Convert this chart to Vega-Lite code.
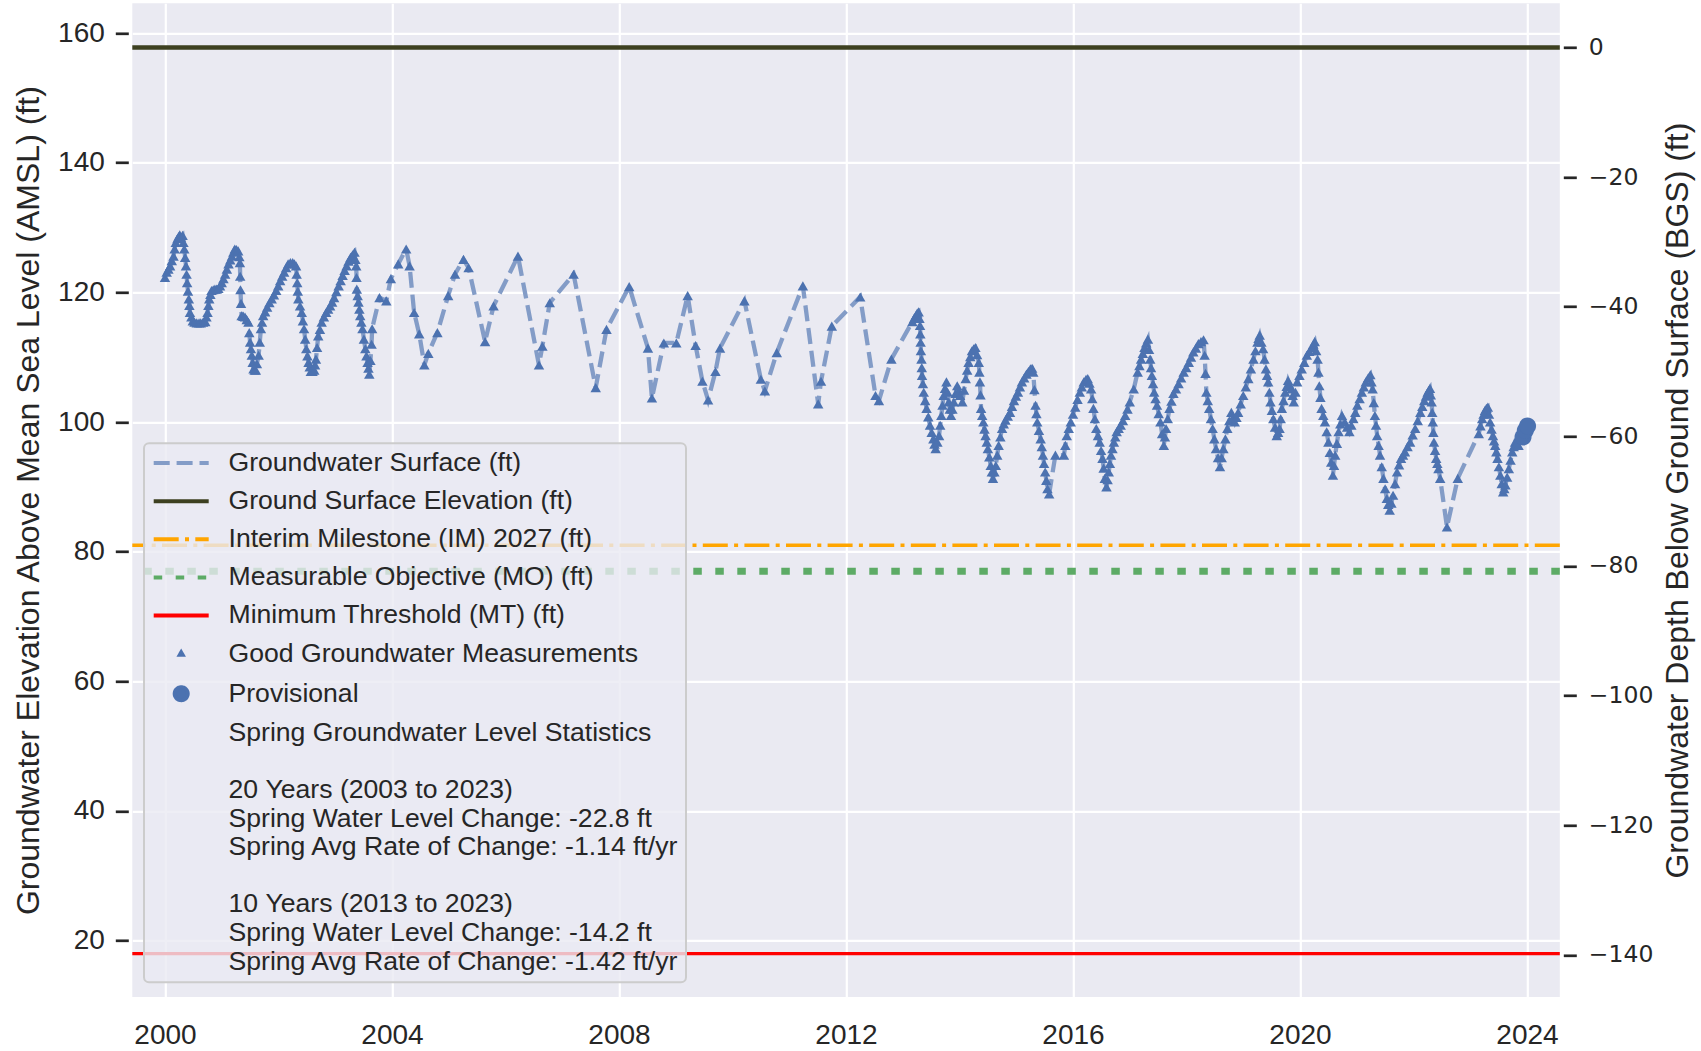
{
"$schema": "https://vega.github.io/schema/vega-lite/v6.json",
"width": 1427.5,
"height": 993.7,
"autosize": {"type": "none"},
"padding": {"left": 132.3, "top": 3.3, "right": 141.2, "bottom": 54},
"background": "#ffffff",
"config": {
  "font": "Liberation Sans",
  "view": {"fill": "#EAEAF2", "stroke": null},
  "axis": {"gridColor": "#ffffff", "gridOpacity": 1, "gridWidth": 2.2, "domain": false, "labelColor": "#262626", "titleColor": "#262626", "tickColor": "#262626", "labelFont": "Liberation Sans", "titleFont": "Liberation Sans", "titleFontWeight": "normal"},
  "legend": {"strokeWidth": 2}
},
"datasets": {
  "refs": [
    {"s": "Interim Milestone (IM) 2027 (ft)", "v": 81},
    {"s": "Measurable Objective (MO) (ft)", "v": 77},
    {"s": "Minimum Threshold (MT) (ft)", "v": 18}
  ],
  "gse": [{"s": "Ground Surface Elevation (ft)", "v": 157.8, "depth": 0}],
  "gw": [
{"t":2000.00,"v":122.3,"q":"g"},{"t":2000.03,"v":123.1,"q":"g"},{"t":2000.06,"v":123.6,"q":"g"},{"t":2000.09,"v":124.1,"q":"g"},{"t":2000.12,"v":124.9,"q":"g"},{"t":2000.15,"v":125.6,"q":"g"},{"t":2000.17,"v":126.7,"q":"g"},{"t":2000.19,"v":127.7,"q":"g"},{"t":2000.22,"v":128.3,"q":"g"},{"t":2000.24,"v":128.6,"q":"g"},{"t":2000.26,"v":128.9,"q":"g"},{"t":2000.28,"v":128.5,"q":"g"},{"t":2000.31,"v":128.8,"q":"g"},{"t":2000.325,"v":127.7,"q":"g"},{"t":2000.34,"v":126.7,"q":"g"},{"t":2000.355,"v":125.4,"q":"g"},{"t":2000.37,"v":124.1,"q":"g"},{"t":2000.38,"v":122.8,"q":"g"},{"t":2000.39,"v":121.5,"q":"g"},{"t":2000.405,"v":120.2,"q":"g"},{"t":2000.42,"v":119.0,"q":"g"},{"t":2000.43,"v":118.0,"q":"g"},{"t":2000.44,"v":116.9,"q":"g"},{"t":2000.465,"v":116.2,"q":"g"},{"t":2000.49,"v":115.6,"q":"g"},{"t":2000.52,"v":115.4,"q":"g"},{"t":2000.56,"v":115.3,"q":"g"},{"t":2000.60,"v":115.3,"q":"g"},{"t":2000.63,"v":115.3,"q":"g"},{"t":2000.67,"v":115.4,"q":"g"},{"t":2000.71,"v":115.5,"q":"g"},{"t":2000.73,"v":116.2,"q":"g"},{"t":2000.75,"v":116.9,"q":"g"},{"t":2000.765,"v":118.0,"q":"g"},{"t":2000.78,"v":119.0,"q":"g"},{"t":2000.80,"v":119.7,"q":"g"},{"t":2000.82,"v":120.3,"q":"g"},{"t":2000.85,"v":120.4,"q":"g"},{"t":2000.88,"v":120.5,"q":"g"},{"t":2000.91,"v":120.5,"q":"g"},{"t":2000.94,"v":120.6,"q":"g"},{"t":2000.97,"v":121.0,"q":"g"},{"t":2001.00,"v":121.5,"q":"g"},{"t":2001.03,"v":122.1,"q":"g"},{"t":2001.06,"v":122.8,"q":"g"},{"t":2001.09,"v":123.6,"q":"g"},{"t":2001.12,"v":124.4,"q":"g"},{"t":2001.15,"v":125.0,"q":"g"},{"t":2001.18,"v":125.6,"q":"g"},{"t":2001.205,"v":126.2,"q":"g"},{"t":2001.23,"v":126.7,"q":"g"},{"t":2001.26,"v":126.6,"q":"g"},{"t":2001.29,"v":126.4,"q":"g"},{"t":2001.31,"v":125.5,"q":"g"},{"t":2001.32,"v":124.6,"q":"g"},{"t":2001.325,"v":122.5,"q":"g"},{"t":2001.33,"v":120.4,"q":"g"},{"t":2001.34,"v":118.3,"q":"g"},{"t":2001.35,"v":116.4,"q":"g"},{"t":2001.38,"v":116.3,"q":"g"},{"t":2001.41,"v":116.2,"q":"g"},{"t":2001.44,"v":115.8,"q":"g"},{"t":2001.47,"v":115.4,"q":"g"},{"t":2001.485,"v":113.8,"q":"g"},{"t":2001.50,"v":112.3,"q":"g"},{"t":2001.515,"v":111.3,"q":"g"},{"t":2001.53,"v":110.3,"q":"g"},{"t":2001.545,"v":109.2,"q":"g"},{"t":2001.56,"v":108.2,"q":"g"},{"t":2001.58,"v":108.0,"q":"g"},{"t":2001.60,"v":108.0,"q":"g"},{"t":2001.62,"v":109.0,"q":"g"},{"t":2001.65,"v":110.3,"q":"g"},{"t":2001.67,"v":112.3,"q":"g"},{"t":2001.69,"v":114.4,"q":"g"},{"t":2001.71,"v":115.4,"q":"g"},{"t":2001.73,"v":116.4,"q":"g"},{"t":2001.765,"v":117.0,"q":"g"},{"t":2001.80,"v":117.7,"q":"g"},{"t":2001.84,"v":118.4,"q":"g"},{"t":2001.88,"v":119.0,"q":"g"},{"t":2001.92,"v":119.6,"q":"g"},{"t":2001.96,"v":120.3,"q":"g"},{"t":2001.995,"v":121.0,"q":"g"},{"t":2002.03,"v":121.8,"q":"g"},{"t":2002.065,"v":122.5,"q":"g"},{"t":2002.10,"v":123.1,"q":"g"},{"t":2002.135,"v":123.8,"q":"g"},{"t":2002.17,"v":124.4,"q":"g"},{"t":2002.21,"v":124.6,"q":"g"},{"t":2002.25,"v":124.6,"q":"g"},{"t":2002.28,"v":124.4,"q":"g"},{"t":2002.31,"v":124.1,"q":"g"},{"t":2002.32,"v":122.8,"q":"g"},{"t":2002.33,"v":121.5,"q":"g"},{"t":2002.34,"v":120.2,"q":"g"},{"t":2002.35,"v":119.0,"q":"g"},{"t":2002.38,"v":117.9,"q":"g"},{"t":2002.41,"v":116.9,"q":"g"},{"t":2002.43,"v":115.6,"q":"g"},{"t":2002.45,"v":114.4,"q":"g"},{"t":2002.47,"v":112.8,"q":"g"},{"t":2002.49,"v":111.3,"q":"g"},{"t":2002.51,"v":110.2,"q":"g"},{"t":2002.53,"v":109.2,"q":"g"},{"t":2002.55,"v":108.5,"q":"g"},{"t":2002.57,"v":107.8,"q":"g"},{"t":2002.60,"v":107.8,"q":"g"},{"t":2002.63,"v":108.0,"q":"g"},{"t":2002.645,"v":108.8,"q":"g"},{"t":2002.66,"v":109.7,"q":"g"},{"t":2002.68,"v":111.5,"q":"g"},{"t":2002.70,"v":113.3,"q":"g"},{"t":2002.73,"v":114.3,"q":"g"},{"t":2002.76,"v":115.4,"q":"g"},{"t":2002.80,"v":116.2,"q":"g"},{"t":2002.84,"v":116.9,"q":"g"},{"t":2002.875,"v":117.4,"q":"g"},{"t":2002.91,"v":117.9,"q":"g"},{"t":2002.945,"v":118.5,"q":"g"},{"t":2002.98,"v":119.2,"q":"g"},{"t":2003.02,"v":120.1,"q":"g"},{"t":2003.06,"v":121.0,"q":"g"},{"t":2003.095,"v":121.8,"q":"g"},{"t":2003.13,"v":122.6,"q":"g"},{"t":2003.165,"v":123.4,"q":"g"},{"t":2003.20,"v":124.1,"q":"g"},{"t":2003.235,"v":124.8,"q":"g"},{"t":2003.27,"v":125.4,"q":"g"},{"t":2003.305,"v":125.8,"q":"g"},{"t":2003.34,"v":126.2,"q":"g"},{"t":2003.355,"v":125.1,"q":"g"},{"t":2003.37,"v":124.1,"q":"g"},{"t":2003.375,"v":122.3,"q":"g"},{"t":2003.38,"v":120.5,"q":"g"},{"t":2003.395,"v":119.5,"q":"g"},{"t":2003.41,"v":118.5,"q":"g"},{"t":2003.425,"v":117.4,"q":"g"},{"t":2003.44,"v":116.4,"q":"g"},{"t":2003.46,"v":115.4,"q":"g"},{"t":2003.48,"v":114.4,"q":"g"},{"t":2003.505,"v":112.8,"q":"g"},{"t":2003.53,"v":111.3,"q":"g"},{"t":2003.55,"v":110.2,"q":"g"},{"t":2003.57,"v":109.2,"q":"g"},{"t":2003.585,"v":108.3,"q":"g"},{"t":2003.60,"v":107.4,"q":"g"},{"t":2003.62,"v":109.5,"q":"g"},{"t":2003.64,"v":112.0,"q":"g"},{"t":2003.65,"v":114.4,"q":"g"},
{"t":2003.78,"v":119.2,"q":"g"},{"t":2003.90,"v":118.7,"q":"g"},{"t":2003.98,"v":122.1,"q":"g"},{"t":2004.11,"v":124.4,"q":"g"},{"t":2004.25,"v":126.7,"q":"g"},{"t":2004.31,"v":124.1,"q":"g"},{"t":2004.39,"v":116.9,"q":"g"},{"t":2004.48,"v":113.6,"q":"g"},{"t":2004.57,"v":108.8,"q":"g"},{"t":2004.64,"v":110.6,"q":"g"},{"t":2004.80,"v":113.8,"q":"g"},{"t":2004.99,"v":119.5,"q":"g"},{"t":2005.11,"v":122.8,"q":"g"},{"t":2005.26,"v":125.1,"q":"g"},{"t":2005.35,"v":123.8,"q":"g"},{"t":2005.64,"v":112.4,"q":"g"},{"t":2005.79,"v":117.9,"q":"g"},{"t":2006.22,"v":125.6,"q":"g"},{"t":2006.59,"v":108.8,"q":"g"},{"t":2006.65,"v":111.7,"q":"g"},{"t":2006.78,"v":118.4,"q":"g"},{"t":2007.20,"v":122.8,"q":"g"},{"t":2007.59,"v":105.3,"q":"g"},{"t":2007.78,"v":114.3,"q":"g"},{"t":2008.18,"v":120.9,"q":"g"},{"t":2008.51,"v":111.4,"q":"g"},{"t":2008.58,"v":103.7,"q":"g"},{"t":2008.79,"v":112.2,"q":"g"},{"t":2009.01,"v":112.2,"q":"g"},{"t":2009.21,"v":119.5,"q":"g"},{"t":2009.35,"v":111.8,"q":"g"},{"t":2009.47,"v":106.3,"q":"g"},{"t":2009.57,"v":103.4,"q":"g"},{"t":2009.70,"v":107.8,"q":"g"},{"t":2009.78,"v":111.4,"q":"g"},{"t":2010.21,"v":118.7,"q":"g"},{"t":2010.50,"v":106.6,"q":"g"},{"t":2010.57,"v":104.8,"q":"g"},{"t":2010.78,"v":110.7,"q":"g"},{"t":2011.24,"v":121.0,"q":"g"},{"t":2011.51,"v":102.8,"q":"g"},{"t":2011.56,"v":106.3,"q":"g"},{"t":2011.75,"v":114.8,"q":"g"},{"t":2012.25,"v":119.3,"q":"g"},{"t":2012.52,"v":104.1,"q":"g"},{"t":2012.58,"v":103.3,"q":"g"},{"t":2012.80,"v":109.7,"q":"g"},
{"t":2013.17,"v":115.5,"q":"g"},{"t":2013.20,"v":116.0,"q":"g"},{"t":2013.23,"v":116.4,"q":"g"},{"t":2013.255,"v":116.8,"q":"g"},{"t":2013.28,"v":117.0,"q":"g"},{"t":2013.295,"v":116.0,"q":"g"},{"t":2013.305,"v":114.9,"q":"g"},{"t":2013.31,"v":113.6,"q":"g"},{"t":2013.315,"v":112.3,"q":"g"},{"t":2013.32,"v":111.0,"q":"g"},{"t":2013.33,"v":109.7,"q":"g"},{"t":2013.335,"v":108.4,"q":"g"},{"t":2013.34,"v":107.2,"q":"g"},{"t":2013.355,"v":105.9,"q":"g"},{"t":2013.37,"v":104.6,"q":"g"},{"t":2013.395,"v":103.3,"q":"g"},{"t":2013.42,"v":102.1,"q":"g"},{"t":2013.45,"v":100.8,"q":"g"},{"t":2013.48,"v":99.5,"q":"g"},{"t":2013.51,"v":98.4,"q":"g"},{"t":2013.54,"v":97.4,"q":"g"},{"t":2013.56,"v":96.6,"q":"g"},{"t":2013.58,"v":95.9,"q":"g"},{"t":2013.61,"v":96.9,"q":"g"},{"t":2013.64,"v":97.9,"q":"g"},{"t":2013.66,"v":99.5,"q":"g"},{"t":2013.68,"v":101.0,"q":"g"},{"t":2013.70,"v":102.6,"q":"g"},{"t":2013.72,"v":104.1,"q":"g"},{"t":2013.745,"v":105.2,"q":"g"},{"t":2013.77,"v":106.2,"q":"g"},{"t":2013.79,"v":104.6,"q":"g"},{"t":2013.81,"v":103.1,"q":"g"},{"t":2013.83,"v":102.0,"q":"g"},{"t":2013.85,"v":101.0,"q":"g"},{"t":2013.875,"v":102.0,"q":"g"},{"t":2013.90,"v":103.1,"q":"g"},{"t":2013.93,"v":104.4,"q":"g"},{"t":2013.96,"v":105.6,"q":"g"},{"t":2013.985,"v":104.8,"q":"g"},{"t":2014.01,"v":104.1,"q":"g"},{"t":2014.05,"v":103.1,"q":"g"},{"t":2014.08,"v":104.9,"q":"g"},{"t":2014.11,"v":106.7,"q":"g"},{"t":2014.135,"v":108.0,"q":"g"},{"t":2014.16,"v":109.2,"q":"g"},{"t":2014.19,"v":110.1,"q":"g"},{"t":2014.22,"v":111.0,"q":"g"},{"t":2014.25,"v":111.3,"q":"g"},{"t":2014.28,"v":111.5,"q":"g"},{"t":2014.31,"v":110.4,"q":"g"},{"t":2014.34,"v":109.2,"q":"g"},{"t":2014.35,"v":107.7,"q":"g"},{"t":2014.36,"v":106.2,"q":"g"},{"t":2014.37,"v":104.2,"q":"g"},{"t":2014.38,"v":102.1,"q":"g"},{"t":2014.40,"v":101.0,"q":"g"},{"t":2014.42,"v":100.0,"q":"g"},{"t":2014.44,"v":98.9,"q":"g"},{"t":2014.46,"v":97.9,"q":"g"},{"t":2014.48,"v":96.9,"q":"g"},{"t":2014.50,"v":95.9,"q":"g"},{"t":2014.525,"v":94.6,"q":"g"},{"t":2014.55,"v":93.3,"q":"g"},{"t":2014.57,"v":92.3,"q":"g"},{"t":2014.59,"v":91.3,"q":"g"},{"t":2014.615,"v":92.3,"q":"g"},{"t":2014.64,"v":93.3,"q":"g"},{"t":2014.665,"v":94.9,"q":"g"},{"t":2014.69,"v":96.4,"q":"g"},{"t":2014.72,"v":97.7,"q":"g"},{"t":2014.75,"v":99.0,"q":"g"},{"t":2014.78,"v":99.7,"q":"g"},{"t":2014.81,"v":100.3,"q":"g"},{"t":2014.85,"v":100.9,"q":"g"},{"t":2014.89,"v":101.5,"q":"g"},{"t":2014.925,"v":102.4,"q":"g"},{"t":2014.96,"v":103.3,"q":"g"},{"t":2014.995,"v":104.0,"q":"g"},{"t":2015.03,"v":104.6,"q":"g"},{"t":2015.065,"v":105.4,"q":"g"},{"t":2015.10,"v":106.2,"q":"g"},{"t":2015.14,"v":106.8,"q":"g"},{"t":2015.18,"v":107.4,"q":"g"},{"t":2015.215,"v":107.8,"q":"g"},{"t":2015.25,"v":108.2,"q":"g"},{"t":2015.28,"v":108.3,"q":"g"},{"t":2015.30,"v":107.7,"q":"g"},{"t":2015.32,"v":105.0,"q":"g"},{"t":2015.34,"v":102.6,"q":"g"},{"t":2015.355,"v":101.3,"q":"g"},{"t":2015.37,"v":100.0,"q":"g"},{"t":2015.40,"v":98.7,"q":"g"},{"t":2015.43,"v":97.4,"q":"g"},{"t":2015.45,"v":96.2,"q":"g"},{"t":2015.47,"v":94.9,"q":"g"},{"t":2015.49,"v":93.6,"q":"g"},{"t":2015.51,"v":92.3,"q":"g"},{"t":2015.53,"v":91.0,"q":"g"},{"t":2015.55,"v":89.7,"q":"g"},{"t":2015.58,"v":88.9,"q":"g"},{"t":2015.69,"v":94.9,"q":"g"},{"t":2015.84,"v":94.9,"q":"g"},{"t":2015.865,"v":96.4,"q":"g"},{"t":2015.89,"v":97.9,"q":"g"},{"t":2015.925,"v":99.0,"q":"g"},{"t":2015.96,"v":100.0,"q":"g"},{"t":2016.00,"v":101.2,"q":"g"},{"t":2016.04,"v":102.3,"q":"g"},{"t":2016.08,"v":103.5,"q":"g"},{"t":2016.12,"v":104.6,"q":"g"},{"t":2016.155,"v":105.4,"q":"g"},{"t":2016.19,"v":106.2,"q":"g"},{"t":2016.23,"v":106.6,"q":"g"},{"t":2016.26,"v":106.7,"q":"g"},{"t":2016.29,"v":106.0,"q":"g"},{"t":2016.32,"v":105.1,"q":"g"},{"t":2016.34,"v":103.6,"q":"g"},{"t":2016.36,"v":102.1,"q":"g"},{"t":2016.385,"v":100.5,"q":"g"},{"t":2016.41,"v":99.0,"q":"g"},{"t":2016.44,"v":97.9,"q":"g"},{"t":2016.47,"v":96.9,"q":"g"},{"t":2016.495,"v":95.6,"q":"g"},{"t":2016.52,"v":94.4,"q":"g"},{"t":2016.54,"v":92.9,"q":"g"},{"t":2016.56,"v":91.3,"q":"g"},{"t":2016.59,"v":90.0,"q":"g"},{"t":2016.61,"v":91.1,"q":"g"},{"t":2016.63,"v":92.3,"q":"g"},{"t":2016.65,"v":93.6,"q":"g"},{"t":2016.67,"v":94.9,"q":"g"},{"t":2016.695,"v":95.9,"q":"g"},{"t":2016.72,"v":96.9,"q":"g"},{"t":2016.745,"v":97.7,"q":"g"},{"t":2016.77,"v":98.5,"q":"g"},{"t":2016.805,"v":99.0,"q":"g"},{"t":2016.84,"v":99.5,"q":"g"},{"t":2016.88,"v":100.2,"q":"g"},{"t":2016.92,"v":101.0,"q":"g"},{"t":2016.96,"v":102.0,"q":"g"},{"t":2017.00,"v":103.1,"q":"g"},{"t":2017.07,"v":105.1,"q":"g"},{"t":2017.14,"v":107.7,"q":"g"},{"t":2017.17,"v":108.7,"q":"g"},{"t":2017.20,"v":109.7,"q":"g"},{"t":2017.23,"v":110.6,"q":"g"},{"t":2017.26,"v":111.5,"q":"g"},{"t":2017.29,"v":112.2,"q":"g"},{"t":2017.32,"v":112.8,"q":"g"},{"t":2017.34,"v":111.2,"q":"g"},{"t":2017.36,"v":109.7,"q":"g"},{"t":2017.375,"v":108.4,"q":"g"},{"t":2017.39,"v":107.2,"q":"g"},{"t":2017.41,"v":105.9,"q":"g"},{"t":2017.43,"v":104.6,"q":"g"},{"t":2017.455,"v":103.6,"q":"g"},{"t":2017.48,"v":102.6,"q":"g"},{"t":2017.51,"v":101.3,"q":"g"},{"t":2017.54,"v":100.0,"q":"g"},{"t":2017.57,"v":98.2,"q":"g"},{"t":2017.60,"v":96.4,"q":"g"},{"t":2017.62,"v":97.7,"q":"g"},{"t":2017.64,"v":99.0,"q":"g"},{"t":2017.67,"v":100.5,"q":"g"},{"t":2017.70,"v":102.1,"q":"g"},{"t":2017.735,"v":103.2,"q":"g"},{"t":2017.77,"v":104.4,"q":"g"},{"t":2017.815,"v":105.1,"q":"g"},{"t":2017.86,"v":105.9,"q":"g"},{"t":2017.905,"v":106.8,"q":"g"},{"t":2017.95,"v":107.7,"q":"g"},{"t":2017.995,"v":108.4,"q":"g"},{"t":2018.04,"v":109.2,"q":"g"},{"t":2018.08,"v":110.0,"q":"g"},{"t":2018.12,"v":110.8,"q":"g"},{"t":2018.165,"v":111.4,"q":"g"},{"t":2018.21,"v":112.1,"q":"g"},{"t":2018.255,"v":112.4,"q":"g"},{"t":2018.30,"v":112.7,"q":"g"},{"t":2018.32,"v":110.3,"q":"g"},{"t":2018.335,"v":107.5,"q":"g"},{"t":2018.35,"v":104.6,"q":"g"},{"t":2018.375,"v":103.3,"q":"g"},{"t":2018.40,"v":102.1,"q":"g"},{"t":2018.43,"v":100.5,"q":"g"},{"t":2018.46,"v":99.0,"q":"g"},{"t":2018.49,"v":97.4,"q":"g"},{"t":2018.52,"v":95.9,"q":"g"},{"t":2018.555,"v":94.5,"q":"g"},{"t":2018.59,"v":93.1,"q":"g"},{"t":2018.62,"v":94.5,"q":"g"},{"t":2018.65,"v":95.9,"q":"g"},{"t":2018.685,"v":97.4,"q":"g"},{"t":2018.72,"v":99.0,"q":"g"},{"t":2018.755,"v":100.2,"q":"g"},{"t":2018.79,"v":101.5,"q":"g"},{"t":2018.82,"v":100.7,"q":"g"},{"t":2018.85,"v":100.0,"q":"g"},{"t":2018.88,"v":100.7,"q":"g"},{"t":2018.91,"v":101.5,"q":"g"},{"t":2018.955,"v":102.8,"q":"g"},{"t":2019.00,"v":104.1,"q":"g"},{"t":2019.045,"v":105.4,"q":"g"},{"t":2019.09,"v":106.7,"q":"g"},{"t":2019.135,"v":108.2,"q":"g"},{"t":2019.18,"v":109.7,"q":"g"},{"t":2019.215,"v":111.0,"q":"g"},{"t":2019.25,"v":112.3,"q":"g"},{"t":2019.27,"v":112.9,"q":"g"},{"t":2019.29,"v":113.4,"q":"g"},{"t":2019.32,"v":112.3,"q":"g"},{"t":2019.35,"v":111.3,"q":"g"},{"t":2019.375,"v":109.7,"q":"g"},{"t":2019.40,"v":108.2,"q":"g"},{"t":2019.42,"v":107.2,"q":"g"},{"t":2019.44,"v":106.2,"q":"g"},{"t":2019.46,"v":104.6,"q":"g"},{"t":2019.48,"v":103.1,"q":"g"},{"t":2019.505,"v":101.8,"q":"g"},{"t":2019.53,"v":100.5,"q":"g"},{"t":2019.56,"v":99.2,"q":"g"},{"t":2019.59,"v":97.9,"q":"g"},{"t":2019.615,"v":98.4,"q":"g"},{"t":2019.64,"v":99.0,"q":"g"},{"t":2019.66,"v":100.5,"q":"g"},{"t":2019.68,"v":102.1,"q":"g"},{"t":2019.71,"v":103.3,"q":"g"},{"t":2019.74,"v":104.6,"q":"g"},{"t":2019.765,"v":105.5,"q":"g"},{"t":2019.79,"v":106.4,"q":"g"},{"t":2019.82,"v":105.7,"q":"g"},{"t":2019.85,"v":105.1,"q":"g"},{"t":2019.87,"v":104.1,"q":"g"},{"t":2019.89,"v":103.1,"q":"g"},{"t":2019.92,"v":104.6,"q":"g"},{"t":2019.95,"v":106.2,"q":"g"},{"t":2019.99,"v":107.2,"q":"g"},{"t":2020.03,"v":108.2,"q":"g"},{"t":2020.075,"v":109.2,"q":"g"},{"t":2020.12,"v":110.3,"q":"g"},{"t":2020.165,"v":110.9,"q":"g"},{"t":2020.21,"v":111.5,"q":"g"},{"t":2020.235,"v":112.0,"q":"g"},{"t":2020.26,"v":112.4,"q":"g"},{"t":2020.285,"v":111.0,"q":"g"},{"t":2020.31,"v":109.7,"q":"g"},{"t":2020.325,"v":107.7,"q":"g"},{"t":2020.34,"v":105.6,"q":"g"},{"t":2020.36,"v":103.8,"q":"g"},{"t":2020.38,"v":102.1,"q":"g"},{"t":2020.41,"v":101.0,"q":"g"},{"t":2020.44,"v":100.0,"q":"g"},{"t":2020.47,"v":98.5,"q":"g"},{"t":2020.50,"v":96.9,"q":"g"},{"t":2020.525,"v":95.3,"q":"g"},{"t":2020.55,"v":93.8,"q":"g"},{"t":2020.58,"v":91.8,"q":"g"},{"t":2020.60,"v":93.3,"q":"g"},{"t":2020.62,"v":94.9,"q":"g"},{"t":2020.65,"v":96.7,"q":"g"},{"t":2020.68,"v":98.5,"q":"g"},{"t":2020.71,"v":99.7,"q":"g"},{"t":2020.74,"v":101.0,"q":"g"},{"t":2020.79,"v":100.0,"q":"g"},{"t":2020.83,"v":99.2,"q":"g"},{"t":2020.87,"v":98.5,"q":"g"},{"t":2020.905,"v":99.5,"q":"g"},{"t":2020.94,"v":100.5,"q":"g"},{"t":2020.975,"v":101.5,"q":"g"},{"t":2021.01,"v":102.6,"q":"g"},{"t":2021.05,"v":103.6,"q":"g"},{"t":2021.09,"v":104.6,"q":"g"},{"t":2021.125,"v":105.4,"q":"g"},{"t":2021.16,"v":106.2,"q":"g"},{"t":2021.20,"v":106.8,"q":"g"},{"t":2021.24,"v":107.3,"q":"g"},{"t":2021.26,"v":106.2,"q":"g"},{"t":2021.28,"v":105.1,"q":"g"},{"t":2021.30,"v":103.0,"q":"g"},{"t":2021.32,"v":101.0,"q":"g"},{"t":2021.34,"v":99.5,"q":"g"},{"t":2021.36,"v":97.9,"q":"g"},{"t":2021.385,"v":96.4,"q":"g"},{"t":2021.41,"v":94.9,"q":"g"},{"t":2021.44,"v":93.1,"q":"g"},{"t":2021.47,"v":91.3,"q":"g"},{"t":2021.50,"v":89.7,"q":"g"},{"t":2021.53,"v":88.2,"q":"g"},{"t":2021.555,"v":87.3,"q":"g"},{"t":2021.58,"v":86.4,"q":"g"},{"t":2021.61,"v":87.5,"q":"g"},{"t":2021.64,"v":88.7,"q":"g"},{"t":2021.675,"v":90.5,"q":"g"},{"t":2021.71,"v":92.3,"q":"g"},{"t":2021.745,"v":93.4,"q":"g"},{"t":2021.78,"v":94.4,"q":"g"},{"t":2021.815,"v":94.9,"q":"g"},{"t":2021.85,"v":95.4,"q":"g"},{"t":2021.895,"v":96.2,"q":"g"},{"t":2021.94,"v":96.9,"q":"g"},{"t":2021.985,"v":98.0,"q":"g"},{"t":2022.03,"v":99.0,"q":"g"},{"t":2022.075,"v":100.2,"q":"g"},{"t":2022.12,"v":101.5,"q":"g"},{"t":2022.155,"v":102.4,"q":"g"},{"t":2022.19,"v":103.3,"q":"g"},{"t":2022.22,"v":104.0,"q":"g"},{"t":2022.25,"v":104.6,"q":"g"},{"t":2022.27,"v":104.9,"q":"g"},{"t":2022.29,"v":105.2,"q":"g"},{"t":2022.305,"v":104.2,"q":"g"},{"t":2022.32,"v":103.1,"q":"g"},{"t":2022.33,"v":101.5,"q":"g"},{"t":2022.34,"v":100.0,"q":"g"},{"t":2022.35,"v":98.4,"q":"g"},{"t":2022.36,"v":96.9,"q":"g"},{"t":2022.38,"v":95.6,"q":"g"},{"t":2022.40,"v":94.4,"q":"g"},{"t":2022.42,"v":93.6,"q":"g"},{"t":2022.44,"v":92.8,"q":"g"},{"t":2022.47,"v":91.3,"q":"g"},{"t":2022.59,"v":83.8,"q":"g"},{"t":2022.78,"v":91.3,"q":"g"},{"t":2023.15,"v":98.2,"q":"g"},{"t":2023.18,"v":99.4,"q":"g"},{"t":2023.21,"v":100.5,"q":"g"},{"t":2023.235,"v":101.2,"q":"g"},{"t":2023.26,"v":101.8,"q":"g"},{"t":2023.285,"v":102.1,"q":"g"},{"t":2023.31,"v":102.3,"q":"g"},{"t":2023.33,"v":101.2,"q":"g"},{"t":2023.35,"v":100.0,"q":"g"},{"t":2023.375,"v":98.9,"q":"g"},{"t":2023.40,"v":97.9,"q":"g"},{"t":2023.42,"v":97.1,"q":"g"},{"t":2023.44,"v":96.4,"q":"g"},{"t":2023.46,"v":95.4,"q":"g"},{"t":2023.48,"v":94.4,"q":"g"},{"t":2023.505,"v":93.1,"q":"g"},{"t":2023.53,"v":91.8,"q":"g"},{"t":2023.555,"v":90.5,"q":"g"},{"t":2023.58,"v":89.2,"q":"g"},{"t":2023.60,"v":89.7,"q":"g"},{"t":2023.62,"v":90.3,"q":"g"},{"t":2023.65,"v":91.5,"q":"g"},{"t":2023.68,"v":92.8,"q":"g"},{"t":2023.71,"v":94.1,"q":"g"},{"t":2023.74,"v":95.4,"q":"g"},{"t":2023.765,"v":96.2,"q":"g"},{"t":2023.79,"v":96.9,"q":"g"},{"t":2023.82,"v":96.7,"q":"g"},{"t":2023.85,"v":96.4,"q":"g"},
{"t":2023.93,"v":97.7,"q":"p"},{"t":2023.97,"v":98.7,"q":"p"},{"t":2024.01,"v":99.4,"q":"p"}
  ]
},
"layer": [
  {
    "encoding": {
      "y": {"field": "v", "type": "quantitative", "title": "Groundwater Elevation Above Mean Sea Level (AMSL) (ft)",
        "scale": {"domain": [11.3, 164.6], "nice": false, "zero": false},
        "axis": {"orient": "left", "values": [20, 40, 60, 80, 100, 120, 140, 160], "format": "d", "grid": true, "ticks": true, "tickSize": 13, "tickWidth": 2.7, "offset": 4, "labelFontSize": 28, "labelPadding": 11, "titleFontSize": 32, "titlePadding": 12.4}}
    },
    "layer": [
      {"data": {"name": "gw"},
       "mark": {"type": "line", "strokeWidth": 4.3, "opacity": 1},
       "encoding": {
         "x": {"field": "t", "type": "quantitative", "title": null,
           "scale": {"domain": [1999.424, 2024.578], "nice": false, "zero": false},
           "axis": {"values": [2000, 2004, 2008, 2012, 2016, 2020, 2024], "format": "d", "grid": true, "ticks": false, "labelFontSize": 28, "labelPadding": 24.5, "labelFlush": false, "labelOverlap": false}},
         "color": {"datum": "Groundwater Surface (ft)", "type": "nominal", "title": null,
           "scale": {"domain": ["Groundwater Surface (ft)", "Ground Surface Elevation (ft)", "Interim Milestone (IM) 2027 (ft)", "Measurable Objective (MO) (ft)", "Minimum Threshold (MT) (ft)", "Good Groundwater Measurements", "Provisional", "Spring Groundwater Level Statistics\n\u2800\n20 Years (2003 to 2023)\nSpring Water Level Change: -22.8 ft\nSpring Avg Rate of Change: -1.14 ft/yr\n\u2800\n10 Years (2013 to 2023)\nSpring Water Level Change: -14.2 ft\nSpring Avg Rate of Change: -1.42 ft/yr"],
                     "range": ["#839cc7", "#3d4020", "#FFA500", "#5dab66", "#FF0000", "#4C72B0", "#4C72B0", "transparent"]},
           "legend": {
             "title": null, "orient": "none", "legendX": 11.7, "legendY": 440,
             "padding": 6.5, "fillColor": "rgba(234,234,242,0.8)", "strokeColor": "#cccccc", "cornerRadius": 5,
             "labelFont": "Liberation Sans", "labelFontSize": 26.6, "labelColor": "#262626", "labelOffset": 34, "labelLimit": 800,
             "rowPadding": 11.1, "symbolOffset": 17.4, "symbolSize": 400, "symbolStrokeWidth": 4, "symbolOpacity": 1,
             "labelExpr": "split(datum.label, '\\n')"
           }},
         "strokeDash": {"datum": "Groundwater Surface (ft)", "type": "nominal", "title": null,
           "scale": {"domain": ["Groundwater Surface (ft)", "Ground Surface Elevation (ft)", "Interim Milestone (IM) 2027 (ft)", "Measurable Objective (MO) (ft)", "Minimum Threshold (MT) (ft)", "Good Groundwater Measurements", "Provisional", "Spring Groundwater Level Statistics\n\u2800\n20 Years (2003 to 2023)\nSpring Water Level Change: -22.8 ft\nSpring Avg Rate of Change: -1.14 ft/yr\n\u2800\n10 Years (2013 to 2023)\nSpring Water Level Change: -14.2 ft\nSpring Avg Rate of Change: -1.42 ft/yr"],
                     "range": [[16, 6.9], [1, 0], [25, 6.3, 4, 6.3], [8.5, 13.5], [1, 0], [1, 0], [1, 0], [1, 0]]}}
       }},
      {"data": {"name": "gw"}, "transform": [{"filter": "datum.q === 'g'"}],
       "mark": {"type": "point", "filled": true, "size": 6520, "opacity": 1},
       "encoding": {"x": {"field": "t", "type": "quantitative", "title": null},
         "color": {"datum": "Good Groundwater Measurements", "type": "nominal", "title": null},
         "shape": {"datum": "Good Groundwater Measurements", "type": "nominal", "title": null,
           "scale": {"domain": ["Groundwater Surface (ft)", "Ground Surface Elevation (ft)", "Interim Milestone (IM) 2027 (ft)", "Measurable Objective (MO) (ft)", "Minimum Threshold (MT) (ft)", "Good Groundwater Measurements", "Provisional", "Spring Groundwater Level Statistics\n\u2800\n20 Years (2003 to 2023)\nSpring Water Level Change: -22.8 ft\nSpring Avg Rate of Change: -1.14 ft/yr\n\u2800\n10 Years (2013 to 2023)\nSpring Water Level Change: -14.2 ft\nSpring Avg Rate of Change: -1.42 ft/yr"],
                     "range": ["M-2.75,0H2.75", "M-2.75,0H2.75", "M-2.75,0H2.75", "M-2.75,0H2.75", "M-2.75,0H2.75", "M0,-0.113L-0.13,0.113L0.13,0.113Z", "M0.65,0A0.65,0.65,0,1,1,-0.65,0A0.65,0.65,0,1,1,0.65,0Z", "M-2.75,0H2.75"]}}}},
      {"data": {"name": "gw"}, "transform": [{"filter": "datum.q === 'p'"}],
       "mark": {"type": "point", "filled": true, "size": 684, "opacity": 1},
       "encoding": {"x": {"field": "t", "type": "quantitative", "title": null},
         "color": {"datum": "Provisional", "type": "nominal", "title": null},
         "shape": {"datum": "Provisional", "type": "nominal", "title": null}}},
      {"data": {"name": "refs"}, "transform": [{"filter": "datum.s === 'Measurable Objective (MO) (ft)'"}],
       "mark": {"type": "rule", "strokeWidth": 7},
       "encoding": {"color": {"field": "s", "type": "nominal", "title": null}, "strokeDash": {"field": "s", "type": "nominal", "title": null}}},
      {"data": {"name": "refs"}, "transform": [{"filter": "datum.s === 'Interim Milestone (IM) 2027 (ft)'"}],
       "mark": {"type": "rule", "strokeWidth": 3.5},
       "encoding": {"color": {"field": "s", "type": "nominal", "title": null}, "strokeDash": {"field": "s", "type": "nominal", "title": null}}},
      {"data": {"name": "refs"}, "transform": [{"filter": "datum.s === 'Minimum Threshold (MT) (ft)'"}],
       "mark": {"type": "rule", "strokeWidth": 3.3},
       "encoding": {"color": {"field": "s", "type": "nominal", "title": null}, "strokeDash": {"field": "s", "type": "nominal", "title": null}}}
    ]
  },
  {
    "data": {"name": "gse"},
    "mark": {"type": "rule", "strokeWidth": 4.5},
    "encoding": {
      "y": {"field": "depth", "type": "quantitative", "title": "Groundwater Depth Below Ground Surface (BGS) (ft)",
        "scale": {"domain": [-146.5, 6.8], "nice": false, "zero": false},
        "axis": {"orient": "right", "values": [-140, -120, -100, -80, -60, -40, -20, 0], "format": "d", "grid": false, "ticks": true, "tickSize": 13, "tickWidth": 2.7, "offset": 3.5, "labelFont": "DejaVu Sans", "labelFontSize": 23.5, "labelPadding": 12, "titleFontSize": 32, "titleAngle": 270, "titleBaseline": "top", "titlePadding": 9.5}},
      "color": {"field": "s", "type": "nominal", "title": null},
      "strokeDash": {"field": "s", "type": "nominal", "title": null}
    }
  }
],
"resolve": {"scale": {"y": "independent"}}
}
